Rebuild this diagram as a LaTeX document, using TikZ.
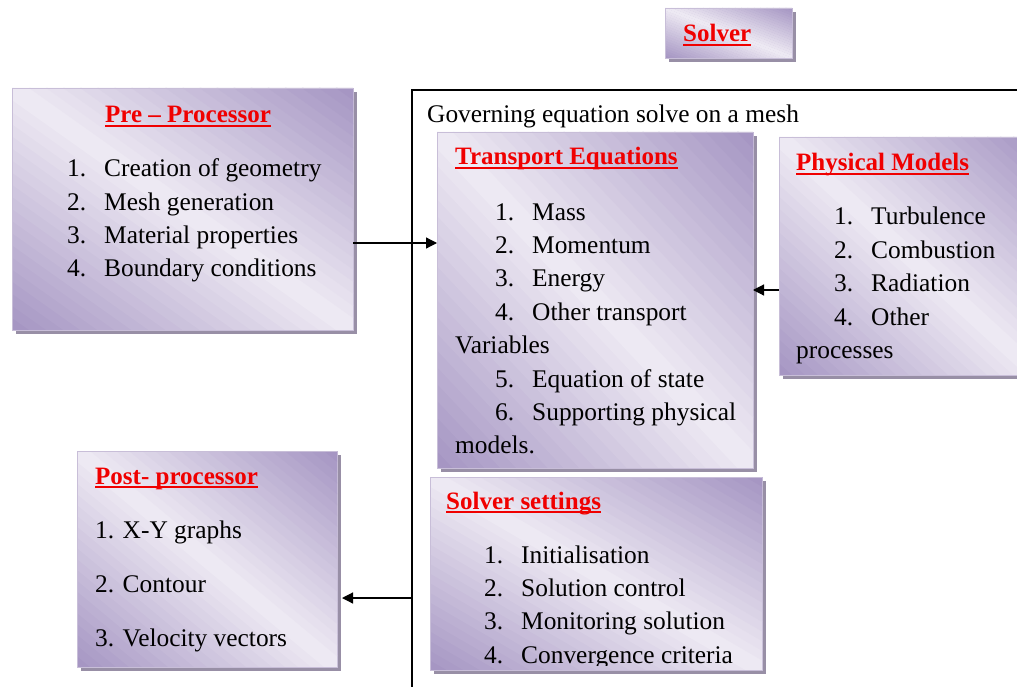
\documentclass[tikz,border=0pt]{standalone}
\usepackage{fontspec}
\setmainfont{Liberation Serif}
\usetikzlibrary{shadows,arrows.meta}
\definecolor{boxdark}{RGB}{164,148,194}
\definecolor{boxlight}{RGB}{239,235,244}
\definecolor{boxline}{RGB}{200,190,216}
\definecolor{boxshadow}{RGB}{152,143,166}
\definecolor{titlered}{RGB}{240,0,0}
\newcommand{\numitem}[2]{\makebox[37pt][l]{#1}#2}
\newcommand{\uln}[1]{\sbox0{#1}\usebox0\hspace{-\wd0}\rule[-4.2pt]{\wd0}{1.8pt}}
% diagonal colour bands over a panel: name, width, height
\newcommand{\shadebox}[3]{%
  \begin{scope}[shift={(#1.south west)}, x=#2pt, y=#3pt]
    \clip (0,0) rectangle (1,1);
    \foreach \k in {0,...,39}{
      \pgfmathsetmacro\mix{abs(2*(\k+0.5)/40-1)*100}
      \fill[boxdark!\mix!boxlight] ({\k/20},0) -- ({(\k+1)/20+0.005},0) -- ({(\k+1)/20-1+0.005},1) -- ({\k/20-1},1) -- cycle;
    }
    \draw[boxline, line width=0.6pt] (0,0) rectangle (1,1);
  \end{scope}}
\tikzset{
        panel/.style={anchor=north west, inner sep=0pt, outer sep=0pt, draw=boxline, line width=0.6pt, fill=boxdark,
          drop shadow={shadow xshift=4pt, shadow yshift=-4pt, fill=boxshadow, opacity=1}},
        txt/.style={anchor=base west, inner sep=0pt, font=\fontsize{25.4}{30}\selectfont},
        heading/.style={anchor=base west, inner sep=0pt, font=\fontsize{25}{30}\selectfont\bfseries, text=titlered},
        link/.style={-{Triangle[length=11pt,width=11pt]}, line width=1.2pt},
        frame/.style={line width=1.4pt}
          }
\begin{document}
\begin{tikzpicture}[x=1pt,y=-1pt]
            \clip (0,0) rectangle (1017,687);
            % solver frame
            \draw[frame] (412,700) |- (1030,90);
            \node[txt] (gov) at (427,123) {Governing equation solve on a mesh};
            % boxes
            \node[panel, minimum width=127pt, minimum height=50pt] (solver) at (665,8) {};
            \shadebox{solver}{127}{50}
            \node[panel, minimum width=341pt, minimum height=242pt] (pre) at (12,88) {};
            \shadebox{pre}{341}{242}
            \node[panel, minimum width=316pt, minimum height=336pt] (trans) at (437,132) {};
            \shadebox{trans}{316}{336}
            \node[panel, minimum width=260pt, minimum height=238pt] (phys) at (779,137) {};
            \shadebox{phys}{260}{238}
            \node[panel, minimum width=260pt, minimum height=216pt] (post) at (77,451) {};
            \shadebox{post}{260}{216}
            \node[panel, minimum width=332pt, minimum height=193pt] (set) at (430,477) {};
            \shadebox{set}{332}{193}
            % solver
            \node[heading] (solver-t) at (683,42) {\uln{Solver}};
            % pre processor
            \node[heading] (pre-t) at (105,123) {\uln{Pre – Processor}};
            \node[txt] (pre-1) at (67,176.7) {\numitem{1.}{Creation of geometry}};
            \node[txt] (pre-2) at (67,210.1) {\numitem{2.}{Mesh generation}};
            \node[txt] (pre-3) at (67,243.5) {\numitem{3.}{Material properties}};
            \node[txt] (pre-4) at (67,276.9) {\numitem{4.}{Boundary conditions}};
            % transport equations
            \node[heading] (trans-t) at (455,165) {\uln{Transport Equations}};
            \node[txt] (trans-1) at (495,220) {\numitem{1.}{Mass}};
            \node[txt] (trans-2) at (495,253.4) {\numitem{2.}{Momentum}};
            \node[txt] (trans-3) at (495,286.8) {\numitem{3.}{Energy}};
            \node[txt] (trans-4) at (495,320.2) {\numitem{4.}{Other transport}};
            \node[txt] (trans-4b) at (455,353.6) {Variables};
            \node[txt] (trans-5) at (495,387) {\numitem{5.}{Equation of state}};
            \node[txt] (trans-6) at (495,420.4) {\numitem{6.}{Supporting physical}};
            \node[txt] (trans-6b) at (455,453.8) {models.};
            % physical models
            \node[heading] (phys-t) at (796,171) {\uln{Physical Models}};
            \node[txt] (phys-1) at (834,224.5) {\numitem{1.}{Turbulence}};
            \node[txt] (phys-2) at (834,258.1) {\numitem{2.}{Combustion}};
            \node[txt] (phys-3) at (834,291.7) {\numitem{3.}{Radiation}};
            \node[txt] (phys-4) at (834,325.3) {\numitem{4.}{Other}};
            \node[txt] (phys-4b) at (796,358.9) {processes};
            % post processor
            \node[heading] (post-t) at (95,484) {\uln{Post- processor}};
            \node[txt] (post-1) at (95,538.5) {1. X-Y graphs};
            \node[txt] (post-2) at (95,592.5) {2. Contour};
            \node[txt] (post-3) at (95,646.5) {3. Velocity vectors};
            % solver settings
            \node[heading] (set-t) at (446,509) {\uln{Solver settings}};
            \begin{scope}
              \clip (set.north west) rectangle ([yshift=5pt]set.south east);
              \node[txt] (set-1) at (484,563) {\numitem{1.}{Initialisation}};
              \node[txt] (set-2) at (484,596.3) {\numitem{2.}{Solution control}};
              \node[txt] (set-3) at (484,629.6) {\numitem{3.}{Monitoring solution}};
              \node[txt] (set-4) at (484,663) {\numitem{4.}{Convergence criteria}};
            \end{scope}
            % arrows
            \coordinate (fr) at (412,598);
            \draw[link] (pre.east |- 0,243) -- (trans.west |- 0,243);
            \draw[link] (phys.west |- 0,290) -- (trans.east |- 0,290);
            \draw[link] (fr) -- ([xshift=5pt]post.east |- fr);
          \end{tikzpicture}
\end{document}
